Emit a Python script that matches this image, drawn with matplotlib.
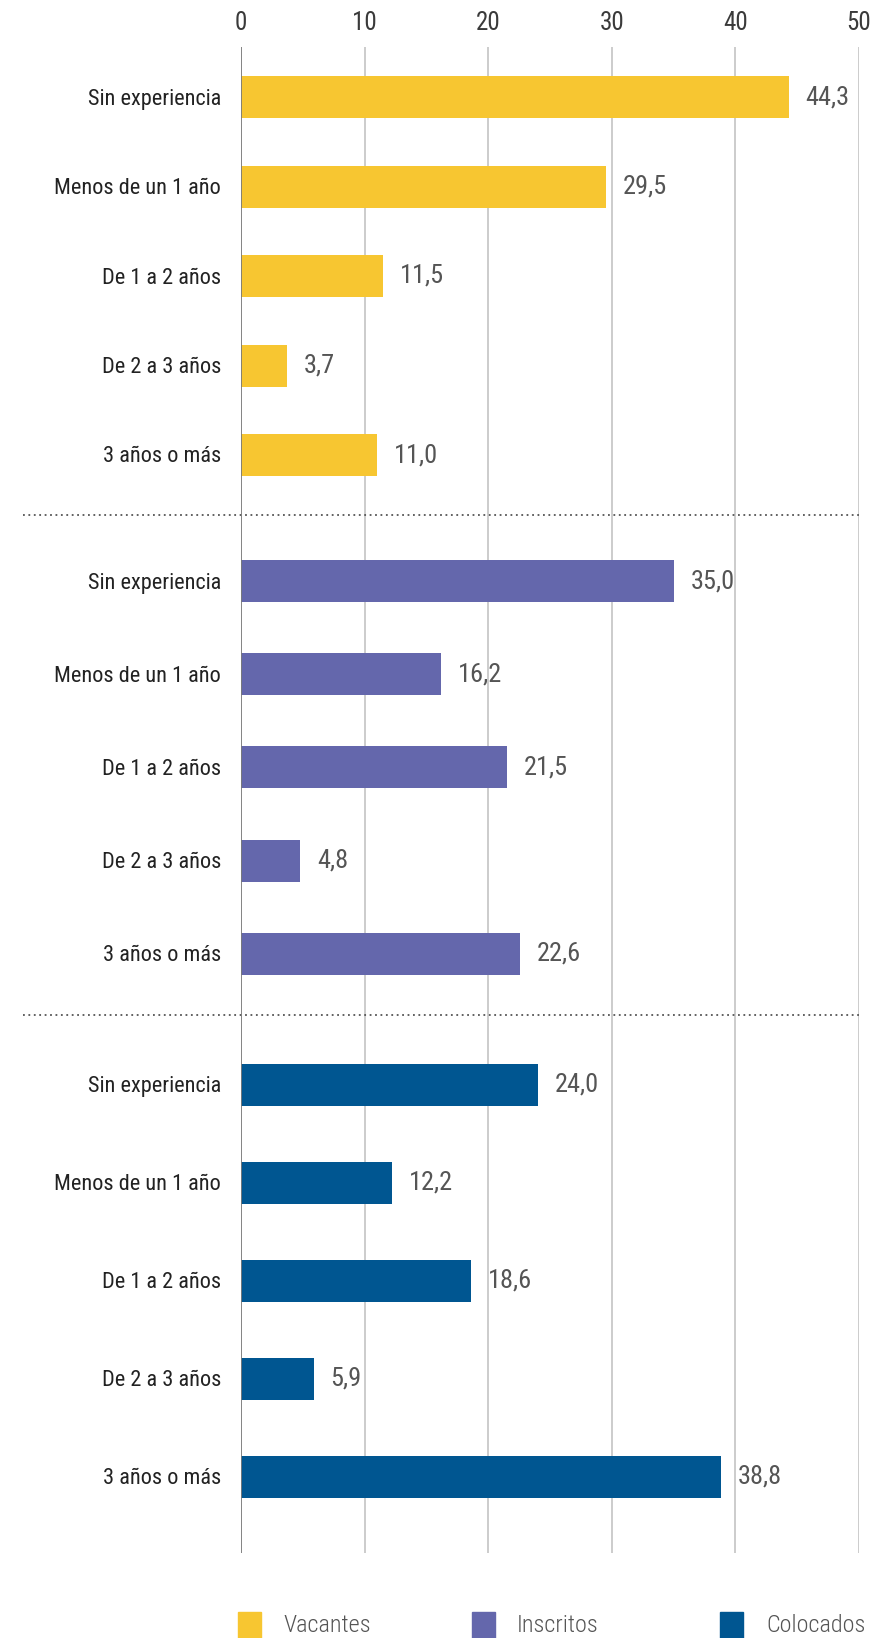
import matplotlib
matplotlib.use("Agg")
import matplotlib.pyplot as plt
from matplotlib.patches import Rectangle

plt.rcParams['font.family'] = ['Roboto Condensed', 'Liberation Sans Narrow',
                               'Roboto', 'DejaVu Sans']

# data
categories = ["Sin experiencia", "Menos de un 1 año", "De 1 a 2 años",
              "De 2 a 3 años", "3 años o más"]
series = ["Vacantes", "Inscritos", "Colocados"]
vacantes = [44.3, 29.5, 11.5, 3.7, 11.0]
inscritos = [35.0, 16.2, 21.5, 4.8, 22.6]
colocados = [24.0, 12.2, 18.6, 5.9, 38.8]
colors = ["#F7C631", "#6467AC", "#005691"]

# layout (pixels of an 871x1638 image)
W, H = 871, 1638
ax_left, ax_right, ax_top, ax_bottom = 241, 859, 47, 1553
group_start = [97, 581, 1085]
group_step = [89.5, 93.2, 98.0]
separators = [515, 1015]
bar_h = 42

fig = plt.figure(figsize=(W / 100, H / 100), dpi=100)
ax = fig.add_axes([ax_left / W, 1 - ax_bottom / H,
                   (ax_right - ax_left) / W, (ax_bottom - ax_top) / H])
ax.set_xlim(0, 50)
ax.set_ylim(ax_bottom, ax_top)

for gi, vals in enumerate([vacantes, inscritos, colocados]):
    ys = [group_start[gi] + i * group_step[gi] for i in range(len(vals))]
    ax.barh(ys, vals, height=bar_h, color=colors[gi], zorder=3)
    for y, v, cat in zip(ys, vals, categories):
        ax.text(v + 1.35, y, f"{v:.1f}".replace(".", ","), va="center",
                ha="left", fontsize=19, color="#555555")
        ax.text(-1.6, y + 2, cat, va="center", ha="right", fontsize=16,
                color="#222222", clip_on=False)

# grid
for x in range(10, 51, 10):
    ax.axvline(x, color="#c4c4c4", lw=1.2, zorder=1)
ax.axvline(0, color="#7a7a7a", lw=1.3, zorder=4)

# separators
x0 = -(ax_left - 23) / ((ax_right - ax_left) / 50)
for s in separators:
    ax.plot([x0, 50], [s, s], ls=(0, (1, 2)), color="#555555", lw=1.3,
            clip_on=False, zorder=2)

ax.xaxis.tick_top()
ax.set_xticks(range(0, 51, 10))
ax.tick_params(axis="x", length=0, pad=9, labelsize=18, labelcolor="#3a3a3a")
ax.set_yticks([])
for sp in ax.spines.values():
    sp.set_visible(False)

# legend
leg_sq = [238, 472, 720]
leg_txt = [283, 517, 766]
for i, name in enumerate(series):
    fig.add_artist(Rectangle((leg_sq[i] / W, 0), 23 / W, (H - 1612) / H,
                             transform=fig.transFigure, color=colors[i]))
    fig.text(leg_txt[i] / W, 1 - 1626 / H, name, va="center", ha="left",
             fontsize=17.5, color="#555555", weight="light")

fig.savefig("out.png", dpi=100)
